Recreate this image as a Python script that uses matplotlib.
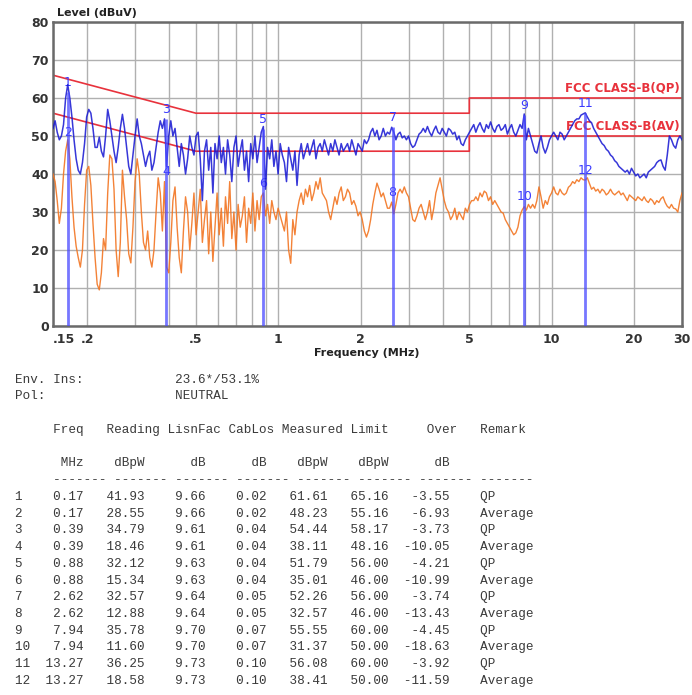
import matplotlib
matplotlib.use('Agg')
import matplotlib.pyplot as plt
import numpy as np

# scan traces, 300 log-stepped points from 0.15 to 30 MHz (dBuV)
qp_level = [
    52, 54, 51, 49, 50, 53, 60, 63.5, 60, 55,
    49, 44, 41, 40, 43, 48, 55, 57, 56, 52,
    47, 47, 49.7, 46, 44.5, 50, 57, 54, 50, 46,
    43, 47, 52, 55.7, 52, 47, 42, 40, 45, 50,
    54.5, 50, 48, 45, 42, 44.5, 46, 41, 43, 47,
    51, 54, 52, 54.5, 42, 50, 54, 50, 52, 47,
    42, 48, 45, 40, 44, 50, 47, 45, 50, 51,
    44, 33, 46, 49, 41, 47, 35, 48, 44, 50,
    43, 47, 40, 49, 45, 38, 47, 50, 42, 46,
    49, 41, 46, 38, 48, 44, 50, 43, 47, 51,
    52.5, 36, 47, 44, 49, 42, 46, 40, 48, 45,
    43, 38, 47, 44, 41, 46, 37, 45, 48, 44,
    46, 48, 45, 47, 49, 44, 47, 48, 46, 49,
    47, 45, 48, 46, 49, 47, 45, 48, 46, 47,
    48, 46, 49, 47, 45, 48, 47, 46, 49, 48,
    49, 51, 52, 50, 51.5, 49, 50, 52, 50, 51,
    50.5, 52.3, 51, 49, 50.5, 51, 49.5, 50, 49, 50,
    48, 47, 47.5, 49, 50.5, 51, 52, 51, 52.5, 51,
    50, 51.5, 52.6, 51, 50.5, 52, 51, 50, 52, 51.5,
    50.5, 51, 49, 50, 48, 47.5, 49, 50, 51, 52,
    53, 51, 52.5, 53.5, 52, 51, 53, 52, 53.7, 52,
    51, 52.5, 53, 51.5, 52, 53, 50.5, 52, 53, 51,
    50, 51.5, 53, 52, 55.8, 49, 52, 50, 48, 46,
    45.5, 48, 50, 47, 45.5, 47, 49, 50, 51, 50,
    49, 51, 50.5, 49, 50, 51, 52, 53, 54, 54.5,
    54.5, 55.5, 55.8, 56.1, 55, 54, 53.5, 52, 51, 50,
    49, 48, 47.5, 46.5, 46, 45, 44.5, 43.5, 43, 42,
    41.5, 41, 40.5, 41, 40, 41.5, 40.5, 39.5, 40, 39,
    39.5, 40, 39, 40.5, 41, 41.5, 42, 43, 43.5, 43.7,
    42, 41, 45, 50, 49, 47.5, 46.8, 49, 50, 49,
]
av_level = [
    40, 38, 33, 27, 31, 40, 46, 49, 44, 34,
    26, 21, 18, 15.5, 20, 32, 41, 42, 37, 27,
    18, 11, 9.5, 14, 23, 20, 35, 45, 44, 36,
    20, 13, 22, 41, 34, 28, 19, 16.6, 26, 38,
    44, 40, 30, 22, 20, 25, 18, 15.5, 20, 30,
    39, 35, 25, 38, 15.5, 14, 22, 33, 36.6, 26,
    18, 14, 25, 34, 30, 20, 27, 35, 24, 30,
    36, 22, 28, 33, 19, 30, 17, 26, 35, 24,
    31, 21, 34, 27, 38, 23, 30, 20, 32, 26,
    29, 34, 22, 31, 27, 35, 25, 33, 28, 34,
    35, 29, 32, 27, 33, 30, 28, 31, 29, 27,
    25, 30, 20, 16.5, 28, 24, 30, 33, 35, 32,
    36, 34, 37, 33, 35, 38, 36, 39, 35, 34,
    33, 30, 28, 31, 34, 32, 35, 36.6, 33, 34,
    36, 35, 32, 33, 31.5, 29, 30, 28, 25, 23.4,
    25, 28, 32, 35, 37.6, 36, 34, 35, 33, 31,
    31, 32.6, 29.5, 32, 35, 36, 35, 36.6, 35, 34,
    31, 28, 27.5, 29, 31, 32, 30, 28, 30, 33,
    28, 31, 35, 37, 39, 36, 33, 31, 30, 28,
    29, 31, 28, 30, 29, 28, 31, 30, 32, 33,
    33, 34, 33, 35, 34, 35.5, 35, 33, 34, 32,
    33, 32, 31, 30, 29.7, 28, 27, 26, 25, 24,
    24.5, 26, 29, 30.5, 31.4, 30.5, 32, 31, 32, 31,
    33, 36.6, 34, 31, 33, 32, 34, 35, 36.6, 35,
    34.5, 36, 35, 34.5, 35, 36.5, 37, 38, 37.5, 38.5,
    38, 39, 38.5, 38.4, 39, 37.5, 36, 36.5, 35.5, 36,
    35, 36, 35.5, 34.5, 35, 36, 35, 34.5, 35, 35.5,
    34.5, 35, 34, 33, 34.5, 34, 33.5, 33, 34, 33.5,
    33, 34, 33, 32.5, 33.5, 33, 32, 33, 32.5, 33.5,
    34, 32.5, 31.5, 31, 32, 31, 30.8, 30, 33, 35,
]

# limit lines
qp_lim_f = [0.15, 0.5, 5, 5, 30]
qp_lim_v = [66, 56, 56, 60, 60]
av_lim_f = [0.15, 0.5, 5, 5, 30]
av_lim_v = [56, 46, 46, 50, 50]

# result table
freq = [0.17, 0.17, 0.39, 0.39, 0.88, 0.88, 2.62, 2.62, 7.94, 7.94, 13.27, 13.27]
reading = [41.93, 28.55, 34.79, 18.46, 32.12, 15.34, 32.57, 12.88, 35.78, 11.60, 36.25, 18.58]
lisnfac = [9.66, 9.66, 9.61, 9.61, 9.63, 9.63, 9.64, 9.64, 9.70, 9.70, 9.73, 9.73]
cablos = [0.02, 0.02, 0.04, 0.04, 0.04, 0.04, 0.05, 0.05, 0.07, 0.07, 0.10, 0.10]
measured = [61.61, 48.23, 54.44, 38.11, 51.79, 35.01, 52.26, 32.57, 55.55, 31.37, 56.08, 38.41]
limit = [65.16, 55.16, 58.17, 48.16, 56.00, 46.00, 56.00, 46.00, 60.00, 50.00, 60.00, 50.00]
over = [-3.55, -6.93, -3.73, -10.05, -4.21, -10.99, -3.74, -13.43, -4.45, -18.63, -3.92, -11.59]
remark = ['QP', 'Average'] * 6

xticks = [0.15, 0.2, 0.3, 0.4, 0.5, 0.6, 0.7, 0.8, 0.9, 1, 2, 3, 4, 5, 6, 7, 8, 9, 10, 20, 30]
xlabels = ['.15', '.2', '', '', '.5', '', '', '', '', '1', '2', '', '', '5', '', '', '', '', '10', '20', '30']

W, H = 692, 695
fig = plt.figure(figsize=(W / 100, H / 100), dpi=100)
ax = fig.add_axes([53 / W, 1 - 326 / H, 629 / W, 304 / H])
ax.set_xscale('log')
ax.set_xlim(0.15, 30)
ax.set_ylim(0, 80)
ax.set_xticks(xticks)
ax.set_xticklabels(xlabels)
ax.xaxis.set_minor_locator(matplotlib.ticker.NullLocator())
ax.set_yticks(range(0, 81, 10))
ax.tick_params(length=0, labelsize=9, colors='#333333')
ax.tick_params(axis='x', pad=5)
ax.tick_params(axis='y', pad=3)
for lab in ax.get_xticklabels() + ax.get_yticklabels():
    lab.set_fontweight('bold')
ax.get_xticklabels()[0].set_horizontalalignment('left')
ax.grid(True, color='#b0b0b0', lw=1.0)
ax.set_axisbelow(True)
for s in ax.spines.values():
    s.set_color('#6a6a6a')
    s.set_linewidth(1.8)

ax.plot(qp_lim_f, qp_lim_v, color='#e8323c', lw=1.2, zorder=2)
ax.plot(av_lim_f, av_lim_v, color='#e8323c', lw=1.2, zorder=2)
ax.text(0.997, 62.6, 'FCC CLASS-B(QP)', transform=ax.get_yaxis_transform(), ha='right', va='center',
        color='#e8323c', fontsize=8.5, fontweight='bold', zorder=2)
ax.text(0.997, 52.4, 'FCC CLASS-B(AV)', transform=ax.get_yaxis_transform(), ha='right', va='center',
        color='#e8323c', fontsize=8.5, fontweight='bold', zorder=2)

f_qp = np.geomspace(0.15, 30, len(qp_level))
f_av = np.geomspace(0.15, 30, len(av_level))
ax.plot(f_av, av_level, color='#f27522', lw=1.0, alpha=0.9, zorder=3)
ax.plot(f_qp, qp_level, color='#1414d2', lw=1.1, alpha=0.85, zorder=4)

# marker lines and numbers
for k in range(len(freq)):
    if k % 2 == 0:
        ax.vlines(freq[k], 0, measured[k], color='#4a4aff', lw=2, alpha=0.75, zorder=5)
    ax.text(freq[k], measured[k] + 2.6, str(k + 1), color='#3a3aff', fontsize=9,
            ha='center', va='center', zorder=3)

fig.text(57 / W, 1 - 13 / H, 'Level (dBuV)', fontsize=8, fontweight='bold', color='#222222', va='center')
fig.text(367 / W, 1 - 353 / H, 'Frequency (MHz)', fontsize=8, fontweight='bold', color='#222222',
         ha='center', va='center')

# text block below the plot
mono = dict(family='Liberation Mono', fontsize=9.1, color='#3a3a3a', va='center')
x0 = 15 / W
fig.text(x0, 1 - 380 / H, 'Env. Ins:' + ' ' * 12 + '23.6*/53.1%', **mono)
fig.text(x0, 1 - 396 / H, 'Pol:' + ' ' * 17 + 'NEUTRAL', **mono)
header = (' ' * 5 + 'Freq' + ' ' * 3 + 'Reading' + ' ' + 'LisnFac' + ' ' + 'CabLos' + ' ' +
          'Measured' + ' ' + 'Limit' + ' ' * 5 + 'Over' + ' ' * 3 + 'Remark')
units = (' ' * 6 + 'MHz' + ' ' * 4 + 'dBpW' + ' ' * 6 + 'dB' + ' ' * 6 + 'dB' + ' ' * 4 +
         'dBpW' + ' ' * 4 + 'dBpW' + ' ' * 6 + 'dB')
dashes = ' ' * 5 + ' '.join(['-------'] * 8)
fig.text(x0, 1 - 430 / H, header, **mono)
fig.text(x0, 1 - 463 / H, units, **mono)
fig.text(x0, 1 - 480 / H, dashes, **mono)
for k in range(len(freq)):
    line = '%-2d%7.2f%8.2f%8.2f%8.2f%8.2f%8.2f%8.2f    %s' % (
        k + 1, freq[k], reading[k], lisnfac[k], cablos[k], measured[k], limit[k], over[k], remark[k])
    fig.text(x0, 1 - (497 + 16.72 * k) / H, line, **mono)

fig.savefig('out.png', dpi=100)
